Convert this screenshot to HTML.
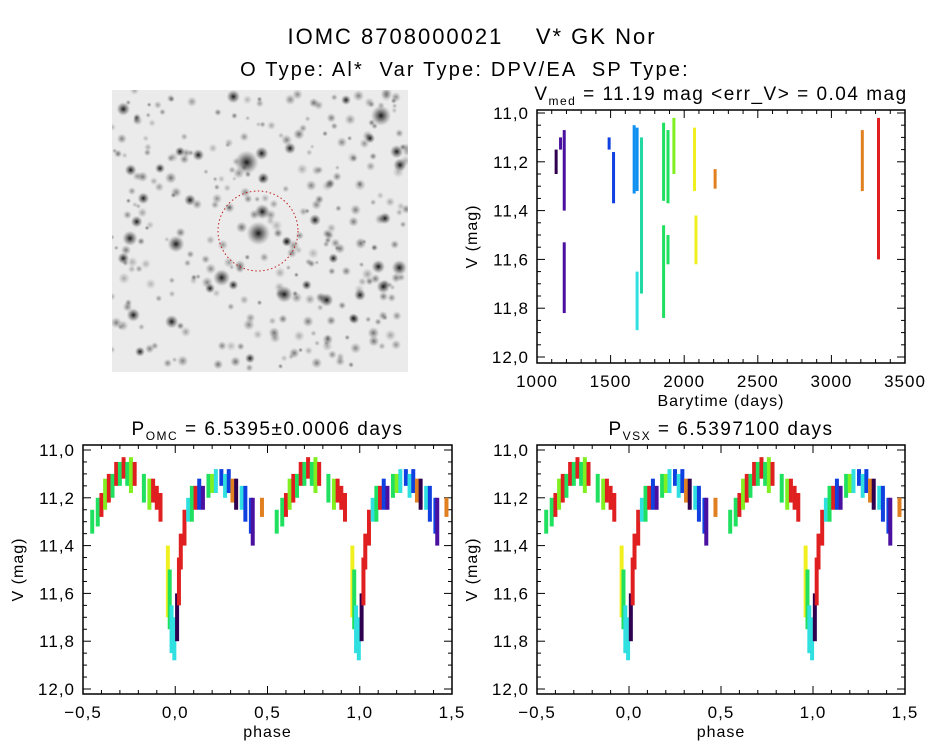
<!DOCTYPE html>
<html><head><meta charset="utf-8"><style>
body{margin:0;background:#fff;}
svg{display:block;font-family:"Liberation Sans",sans-serif;}
text{white-space:pre;}
</style></head><body>
<svg id="c" width="944" height="747" viewBox="0 0 944 747" xmlns="http://www.w3.org/2000/svg">
<defs>
<radialGradient id="star"><stop offset="0" stop-color="#000" stop-opacity="0.9"/><stop offset="0.5" stop-color="#333" stop-opacity="0.5"/><stop offset="1" stop-color="#666" stop-opacity="0"/></radialGradient>
<clipPath id="imgclip"><rect x="112" y="90" width="296" height="282"/></clipPath>
</defs>
<text x="472" y="44" text-anchor="middle" font-size="22" letter-spacing="2">IOMC 8708000021    V* GK Nor</text>
<text x="465" y="76" text-anchor="middle" font-size="20" letter-spacing="2.2">O Type: Al*  Var Type: DPV/EA  SP Type:</text>
<g id="img" clip-path="url(#imgclip)"><rect x="112" y="90" width="296" height="282" fill="#ebebeb"/></g>
<circle cx="258" cy="231" r="40" fill="none" stroke="#c02020" stroke-width="1" stroke-dasharray="1.5,2.5"/>
<g id="plots"></g>
</svg>
<script>
// ---- sky image stars (decorative) ----
const starX=[843,440,485,487,475,90,228,365,553,898,70,400,890,900,835,850,680,215,100,780,70,270,130,110,645,855,490,570,295,92,240,738,810,120,330,620,700,450,560,760,180,400];
const starY=[92,232,205,380,445,460,477,578,628,548,72,35,200,240,545,605,645,710,690,630,520,345,340,410,405,400,280,190,210,255,200,45,160,800,610,600,520,820,470,700,250,600];
const starR=[12,14,8,9,14,9,10,10,10,9,8,8,8,8,8,8,8,8,8,7,7,7,7,7,7,7,7,7,7,7,6,6,6,6,6,6,6,6,6,6,6,6];
const NS="http://www.w3.org/2000/svg";
function mk(tag,attrs,parent){const e=document.createElementNS(NS,tag);for(const k in attrs)e.setAttribute(k,attrs[k]);parent.appendChild(e);return e;}
const img=document.getElementById('img');
let seed=7;function rnd(){seed=(seed*16807)%2147483647;return seed/2147483647;}
for(let i=0;i<300;i++){mk('circle',{cx:112+rnd()*296,cy:90+rnd()*282,r:2.5+rnd()*3.5,fill:'url(#star)',opacity:0.25+rnd()*0.35},img);}
for(let i=0;i<starX.length;i++){
  const c=mk('circle',{cx:100+starX[i]/3,cy:85+starY[i]/3,r:starR[i]*0.85,fill:'url(#star)'},img);
  
  
}

// ---- colour palette ----
const palette={nv:'#300050',pu:'#4a10a0',bl:'#1040e0',lb:'#1090f0',cy:'#30e0e0',tl:'#20d8a0',gr:'#20e060',lg:'#80f020',ye:'#f0f020',or:'#e08020',rd:'#e02020'};

// ---- time-series data (top right) ----
const tsTime=[1130,1160,1185,1185,1490,1520,1660,1680,1680,1710,1860,1860,1890,1890,1930,2070,2080,2210,3210,3320];
const tsTop=[11.15,11.10,11.07,11.53,11.10,11.16,11.05,11.06,11.65,11.10,11.04,11.46,11.07,11.50,11.02,11.06,11.42,11.23,11.07,11.02];
const tsBot=[11.25,11.15,11.40,11.82,11.15,11.37,11.33,11.32,11.89,11.74,11.36,11.84,11.37,11.62,11.25,11.32,11.62,11.31,11.32,11.60];
const tsCol=['nv','pu','pu','pu','bl','bl','lb','lb','cy','tl','gr','gr','gr','gr','lg','ye','ye','or','or','rd'];

// ---- phase-folded data (phase in [0,1)) ----
const phPhase=[0.55,0.58,0.60,0.62,0.64,0.66,0.68,0.70,0.72,0.74,0.76,0.78,0.83,0.86,0.88,0.90,0.92,0.96,0.97,0.98,0.995,0.01,0.02,0.03,0.05,0.07,0.09,0.11,0.13,0.15,0.18,0.20,0.22,0.25,0.27,0.29,0.31,0.33,0.36,0.38,0.41,0.42,0.47];
const phTop=[11.25,11.20,11.18,11.12,11.10,11.10,11.05,11.05,11.03,11.05,11.03,11.05,11.10,11.12,11.12,11.15,11.18,11.40,11.50,11.65,11.70,11.60,11.45,11.35,11.25,11.20,11.15,11.15,11.12,11.15,11.10,11.10,11.08,11.08,11.10,11.08,11.12,11.12,11.15,11.15,11.20,11.20,11.20];
const phBot=[11.35,11.32,11.28,11.25,11.22,11.20,11.15,11.15,11.12,11.15,11.18,11.15,11.22,11.25,11.22,11.25,11.30,11.70,11.75,11.85,11.88,11.80,11.65,11.50,11.40,11.30,11.30,11.25,11.25,11.25,11.20,11.18,11.18,11.15,11.20,11.18,11.22,11.25,11.25,11.30,11.35,11.40,11.28];
const phCol=['gr','gr','rd','lg','rd','gr','rd','gr','rd','gr','lg','rd','gr','lg','rd','rd','rd','ye','gr','cy','cy','nv','rd','rd','rd','cy','gr','rd','bl','pu','gr','lg','cy','bl','cy','bl','or','nv','cy','bl','bl','pu','or'];

const magTicks=['11.0','11.2','11.4','11.6','11.8','12.0'];
const timeTicks=['1000','1500','2000','2500','3000','3500'];
const phaseTicks=['-0.5','0.0','0.5','1.0','1.5'];

const plots=document.getElementById('plots');
function axes(o){
  const g=mk('g',{},plots);
  const X=v=>o.x0+(v-o.xmin)/(o.xmax-o.xmin)*(o.x1-o.x0);
  const Y=v=>o.yA+(v-11.0)*(o.yB-o.yA);
  mk('rect',{x:o.x0,y:o.y0,width:o.x1-o.x0,height:o.y1-o.y0,fill:'none',stroke:'#000','stroke-width':1.5},g);
  for(let i=0;i<=20;i++){const v=11.0+i*0.05;const maj=i%4===0;const L=maj?8:4;const y=Y(v);
    mk('line',{x1:o.x0,y1:y,x2:o.x0+L,y2:y,stroke:'#000'},g);mk('line',{x1:o.x1,y1:y,x2:o.x1-L,y2:y,stroke:'#000'},g);}
  magTicks.forEach(t=>{const e=mk('text',{x:o.x0-8,y:Y(+t)+6,'text-anchor':'end','font-size':17,'letter-spacing':1},g);e.textContent=t.replace('.',',');});
  const nMinor=Math.round((o.xmax-o.xmin)/o.minor);const per=Math.round(o.major/o.minor);
  for(let i=0;i<=nMinor;i++){const v=o.xmin+i*o.minor;const L=(i%per===0)?8:4;const x=X(v);
    mk('line',{x1:x,y1:o.y1,x2:x,y2:o.y1-L,stroke:'#000'},g);mk('line',{x1:x,y1:o.y0,x2:x,y2:o.y0+L,stroke:'#000'},g);}
  o.xt.forEach(t=>{const e=mk('text',{x:X(+t),y:o.y1+24,'text-anchor':'middle','font-size':17,'letter-spacing':1},g);e.textContent=t.replace('.',',').replace('-','\u2212');});
  const yl=mk('text',{x:0,y:0,'text-anchor':'middle','font-size':16,'letter-spacing':1,transform:`translate(${o.x0-60},${(o.y0+o.y1)/2}) rotate(-90)`},g);yl.textContent='V (mag)';
  
  const xl=mk('text',{x:(o.x0+o.x1)/2,y:o.y1+43,'text-anchor':'middle','font-size':16,'letter-spacing':1},g);xl.textContent=o.xlabel;
  
  const tt=mk('text',{x:(o.x0+o.x1)/2,y:o.y0-10,'text-anchor':'middle','font-size':19,'letter-spacing':1.5},g);tt.innerHTML=o.title;
  
  return {g,X,Y};
}
const A=axes({name:'lightcurve-plot',x0:537,x1:905,y0:110,y1:363,yA:113,yB:357,xmin:1000,xmax:3500,major:500,minor:100,xt:timeTicks,xlabel:'Barytime (days)',
  title:'V<tspan font-size="12" dy="5">med</tspan><tspan dy="-5"> = 11.19 mag &lt;err_V&gt; = 0.04 mag</tspan>'});
for(let i=0;i<tsTime.length;i++){
  const r=mk('rect',{x:A.X(tsTime[i])-1.5,y:A.Y(tsTop[i]),width:3,height:A.Y(tsBot[i])-A.Y(tsTop[i]),fill:palette[tsCol[i]]},A.g);
  
  
}
function phasePlot(x0,x1,name,title){
  const P=axes({name:name,x0:x0,x1:x1,y0:445,y1:694,yA:450,yB:689,xmin:-0.5,xmax:1.5,major:0.5,minor:0.1,xt:phaseTicks,xlabel:'phase',title:title});
  for(let i=0;i<phPhase.length;i++){
    for(const k of [-1,0,1]){const p=phPhase[i]+k;if(p<-0.5||p>1.5)continue;
      const r=mk('rect',{x:P.X(p)-2,y:P.Y(phTop[i]),width:4,height:P.Y(phBot[i])-P.Y(phTop[i]),fill:palette[phCol[i]]},P.g);
      
      
    }
  }
}
phasePlot(83,452,'phase-plot-omc','P<tspan font-size="12" dy="5">OMC</tspan><tspan dy="-5"> = 6.5395±0.0006 days</tspan>');
phasePlot(537,905,'phase-plot-vsx','P<tspan font-size="12" dy="5">VSX</tspan><tspan dy="-5"> = 6.5397100 days</tspan>');
</script>
</body></html>
